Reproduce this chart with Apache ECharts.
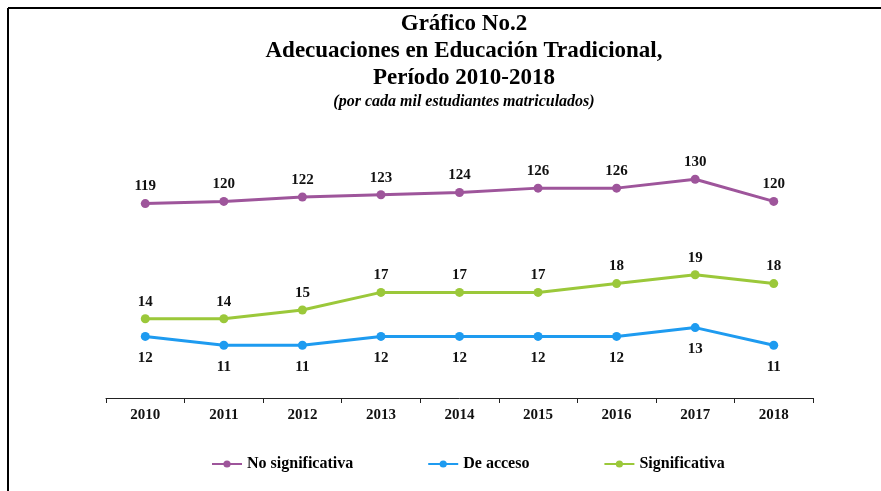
<!DOCTYPE html>
<html>
<head>
<meta charset="utf-8">
<script src="https://cdn.jsdelivr.net/npm/echarts@6/dist/echarts.min.js"></script>
<style>
  html, body { margin: 0; padding: 0; background: #fff; }
  #chart { width: 881px; height: 491px; }
</style>
</head>
<body>
<div id="chart"></div>
<script>
    // datos del gráfico
    var years = ['2010', '2011', '2012', '2013', '2014', '2015', '2016', '2017', '2018'];
    var noSignificativa = [119, 120, 122, 123, 124, 126, 126, 130, 120];
    var deAcceso = [12, 11, 11, 12, 12, 12, 12, 13, 11];
    var significativa = [14, 14, 15, 17, 17, 17, 18, 19, 18];

    var serif = '"Liberation Serif", "DejaVu Serif", serif';
    var labelStyle = {
        show: true,
        fontFamily: serif,
        fontWeight: 'bold',
        fontSize: 15,
        color: '#111'
    };

    var myChart = echarts.init(document.getElementById('chart'));
    var option = {
        backgroundColor: '#fff',
        animation: false,
        title: [
            {
                text: 'Gráfico No.2\nAdecuaciones en Educación Tradicional,\nPeríodo 2010-2018',
                left: 459,
                textAlign: 'center',
                top: 6,
                textStyle: {
                    fontFamily: serif,
                    fontWeight: 'bold',
                    fontSize: 23,
                    lineHeight: 27,
                    color: '#000'
                }
            },
            {
                text: '(por cada mil estudiantes matriculados)',
                left: 459,
                textAlign: 'center',
                top: 89,
                textStyle: {
                    fontFamily: serif,
                    fontWeight: 'bold',
                    fontStyle: 'italic',
                    fontSize: 16,
                    color: '#000'
                }
            }
        ],
        graphic: [
            { type: 'line', shape: { x1: 8, y1: 8, x2: 881, y2: 8 }, style: { stroke: '#000', lineWidth: 2 } },
            { type: 'line', shape: { x1: 8, y1: 8, x2: 8, y2: 491 }, style: { stroke: '#000', lineWidth: 2 } }
        ],
        legend: {
            left: 211,
            top: 456,
            padding: 0,
            itemWidth: 30,
            itemHeight: 9,
            itemGap: 74,
            textStyle: {
                fontFamily: serif,
                fontWeight: 'bold',
                fontSize: 16,
                color: '#000'
            },
            data: ['No significativa', 'De acceso', 'Significativa']
        },
        grid: {
            left: 106,
            right: 68,
            top: 134,
            bottom: 93
        },
        xAxis: {
            type: 'category',
            data: years,
            boundaryGap: true,
            axisLine: { lineStyle: { color: '#222', width: 1 } },
            axisTick: { show: true, length: 5, lineStyle: { color: '#222' } },
            axisLabel: {
                margin: 10,
                fontFamily: serif,
                fontWeight: 'bold',
                fontSize: 15,
                color: '#111'
            }
        },
        yAxis: [
            { type: 'value', min: 5, max: 35, show: false, splitLine: { show: false } },
            { type: 'value', min: 31, max: 150.5, show: false, splitLine: { show: false } }
        ],
        series: [
            {
                name: 'No significativa',
                type: 'line',
                yAxisIndex: 1,
                data: noSignificativa,
                symbol: 'circle',
                symbolSize: 9,
                itemStyle: { color: '#9E559B' },
                lineStyle: { width: 3, color: '#9E559B' },
                label: Object.assign({ position: 'top', distance: 5 }, labelStyle)
            },
            {
                name: 'De acceso',
                type: 'line',
                yAxisIndex: 0,
                data: deAcceso,
                symbol: 'circle',
                symbolSize: 9,
                itemStyle: { color: '#1E9BF0' },
                lineStyle: { width: 3, color: '#1E9BF0' },
                label: Object.assign({ position: 'bottom', distance: 10 }, labelStyle)
            },
            {
                name: 'Significativa',
                type: 'line',
                yAxisIndex: 0,
                data: significativa,
                symbol: 'circle',
                symbolSize: 9,
                itemStyle: { color: '#9BC83A' },
                lineStyle: { width: 3, color: '#9BC83A' },
                label: Object.assign({ position: 'top', distance: 5 }, labelStyle)
            }
        ]
    };
    myChart.setOption(option);
</script>
</body>
</html>
